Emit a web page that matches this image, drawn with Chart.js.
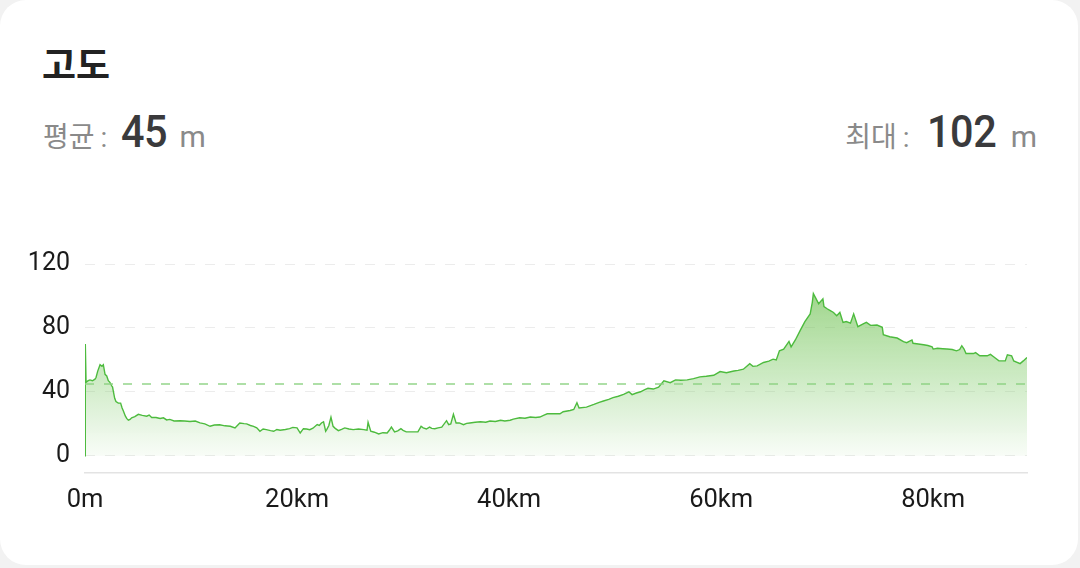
<!DOCTYPE html>
<html>
<head>
<meta charset="utf-8">
<script src="https://cdn.jsdelivr.net/npm/chart.js@4"></script>
<style>
  html, body { margin:0; padding:0; width:1080px; height:568px; background:#f2f2f2; overflow:hidden; }
  .card { position:absolute; left:0; top:0; width:1078px; height:565px; background:#fff; border-radius:26px; }
  .title { position:absolute; left:42px; top:45px; font-family:"Noto Sans CJK KR"; font-weight:700; font-size:37px; color:#222; line-height:1; }
  .stat { position:absolute; top:105px; display:flex; align-items:baseline; white-space:nowrap; }
  .stat .lbl { font-family:"Noto Sans CJK KR"; font-size:28px; color:#8a8a8a; }
  .stat .colon { font-family:"Roboto"; font-size:28px; color:#8a8a8a; margin:0 14px 0 6px; }
  .stat .num { font-family:"Roboto"; font-weight:500; font-size:45px; color:#3a3a3c; display:inline-block; transform:scaleX(0.92); transform-origin:left; letter-spacing:-0.5px; }
  .stat .unit { font-family:"Roboto"; font-size:30px; color:#8a8a8a; }
  #left { left:43px; }
  #right { right:43px; }
  #wrap { position:absolute; left:0; top:233.5px; width:1080px; height:296.5px; }
</style>
</head>
<body>
<div class="card"></div>
<div class="title">고도</div>
<div class="stat" id="left"><span class="lbl">평균</span><span class="colon">:</span><span class="num" id="avgNum" style="margin-right:8px">45</span><span class="unit">m</span></div>
<div class="stat" id="right"><span class="lbl">최대</span><span class="colon" style="margin-right:18px">:</span><span class="num" id="maxNum" style="margin-right:8px">102</span><span class="unit">m</span></div>
<div id="wrap"><canvas id="c"></canvas></div>
<script>
// ---- data ----
const distKm = [0,0.03,0.1,0.3,0.47,0.7,0.94,1.04,1.2,1.42,1.6,1.73,1.89,2.05,2.2,2.35,2.5,2.6,2.67,2.8,2.92,3.14,3.36,3.5,3.62,3.8,3.93,4.09,4.25,4.4,4.7,5.03,5.4,5.82,6.05,6.29,6.7,7.08,7.4,7.7,8.0,8.4,8.96,9.4,9.9,10.4,10.85,11.3,11.8,12.2,12.7,13.2,13.7,14.15,14.6,15.0,15.25,15.6,15.9,16.2,16.5,16.8,17.1,17.5,17.8,18.1,18.4,18.9,19.3,19.6,20,20.3,20.6,20.9,21.2,21.5,21.9,22.1,22.3,22.5,22.7,22.8,23.0,23.2,23.4,23.6,23.9,24.2,24.5,24.9,25.3,25.8,26.3,26.6,26.7,26.95,27.3,27.7,28.1,28.5,28.7,28.9,29.2,29.5,29.8,30.0,30.3,30.9,31.4,31.7,31.9,32.2,32.5,32.7,33,33.3,33.65,34.1,34.3,34.5,34.75,35,35.3,35.7,36.0,36.3,36.8,37.3,37.8,38.2,38.7,39.2,39.6,40.1,40.4,41,41.5,42,42.5,42.9,43.3,43.6,44.2,44.8,45.1,45.75,46.1,46.4,46.6,47.3,48,48.5,48.9,49.4,49.8,50.3,50.8,51.3,51.6,52.0,52.4,52.8,53.1,53.6,54.1,54.6,55.2,55.7,56.2,56.8,57.4,58,58.6,59.3,59.9,60.5,61.2,61.6,62.1,62.7,63.0,63.4,64,64.5,64.9,65.2,65.5,65.9,66.4,66.6,67,67.45,67.9,68.4,68.6,68.7,68.9,69.2,69.6,69.7,70.0,70.3,70.6,70.9,71.2,71.5,71.8,72.2,72.5,72.9,73.4,73.7,74.1,74.7,75.2,75.3,75.9,76.6,77.2,77.5,78,78.1,78.6,79.1,79.5,79.9,80,80.4,80.9,81.3,81.8,82.2,82.5,82.7,82.9,83.1,83.8,84,84.4,85.1,85.4,85.7,86.2,86.8,87,87.4,87.6,88.2,88.5,88.85];
const altM = [0,70,46,47,47.5,47,48,49,53,57,56,57,51,50,47,46,44,43,40.5,36,34,33,33,30,28,25,23.4,22.3,22.8,23.8,24.5,26,25.3,24.8,25.5,24,24,23.4,23.8,22.5,22.8,21.8,22,21.8,21.5,21.8,20.6,20,18.5,19.3,19.5,18.8,18.5,17.5,20.6,20.2,20,19,18.5,17.5,15.4,16.8,16.4,15.8,15.4,16.5,16,16.5,17,17.8,17.5,14.3,17,16.8,16.4,17.3,19.6,19,20.6,21.3,15.4,16.4,19,24.2,18.5,17.2,15.8,16.6,17.5,16.8,16.4,16.8,16.4,16,21,15.4,14.8,13.7,14.5,14.3,16,18,15,15.6,17,16,15,15,15,18.5,17.5,16.8,18,17.2,17,17.5,18,22,19.5,20,26,20.6,20.6,19.5,20.3,20.6,21,21.3,21,21.8,21.5,22.3,21.8,22.3,23,23.8,23.5,24.3,24,24.3,25.5,26.3,26.3,26.3,27.6,28.4,29,33.2,30,30.5,32.2,33.5,34.3,35.3,36.4,37.3,38.5,40.1,38.3,39.3,40.1,41.5,42.3,41.8,43,46.9,45.8,47.5,47.3,47.5,48.3,49.4,49.8,50.4,52.7,52,53.1,53.5,54.2,57.7,56,56.3,58.4,59.3,60.5,60,65.7,66.8,71.6,68.2,72.5,78.3,84,88.8,96,101.5,99,95.1,98.2,93.4,92,90.9,89.7,87.6,89.7,83.5,84,83,88.8,80.8,82.5,83.5,81.6,81.8,80.4,75.8,74.5,73.7,71.4,70.8,72.5,70.4,70,69.5,69,68.2,66.8,67.3,67,66.8,66.5,65.7,66.5,68.9,67,64,64,64.6,62.6,62.6,63.5,62,59.4,59.4,63.2,62.6,59.4,57.7,59.4,61.5];
const avgAlt = 45;
const maxAlt = 102;
const xTicks = [0,20,40,60,80];
const yTicks = [0,40,80,120];
const xTickLabels = ['0m','20km','40km','60km','80km'];

document.getElementById('avgNum').textContent = avgAlt;
document.getElementById('maxNum').textContent = maxAlt;

const profile = distKm.map((d,i)=>({x:d, y:altM[i]}));
const lastKm = distKm[distKm.length-1];
const avgLine = [{x:0,y:avgAlt},{x:lastKm,y:avgAlt}];

const ctx = document.getElementById('c');
new Chart(ctx, {
  type:'line',
  data:{ datasets:[
    { data: avgLine, borderColor:'rgba(140,210,130,0.7)', borderWidth:2, borderDash:[9,10], pointRadius:0, fill:false, order:0 },
    { data: profile, borderColor:'#4dbb3e', borderWidth:1.4, pointRadius:0, tension:0, fill:'origin', order:1,
      backgroundColor:(c)=>{
        const ch=c.chart; const a=ch.chartArea; if(!a) return 'rgba(110,195,80,0.3)';
        const ys=ch.scales.y;
        const g=ch.ctx.createLinearGradient(0, ys.getPixelForValue(maxAlt), 0, ys.getPixelForValue(0));
        g.addColorStop(0,'rgba(110,192,80,0.66)');
        g.addColorStop(0.5,'rgba(120,200,95,0.38)');
        g.addColorStop(1,'rgba(130,205,110,0.06)');
        return g;
      } }
  ]},
  options:{
    responsive:true, maintainAspectRatio:false, animation:false,
    layout:{ padding:{ top:19, right:53, left:0, bottom:0 } },
    plugins:{ legend:{display:false}, tooltip:{enabled:false} },
    scales:{
      x:{ type:'linear', min:0, max:lastKm,
        afterBuildTicks:(s)=>{ s.ticks = xTicks.map(v=>({value:v})); },
        afterFit:(s)=>{ s.height = 58; },
        grid:{ display:false },
        border:{ display:true, color:'#e3e3e3', width:1.5 },
        ticks:{ padding:5, color:'#1a1a1a', font:{family:'Roboto', size:25.5}, maxRotation:0,
          callback:(v,i)=>xTickLabels[xTicks.indexOf(v)] }
      },
      y:{ min:-10.4, max:120,
        afterBuildTicks:(s)=>{ s.ticks = yTicks.map(v=>({value:v})); },
        afterFit:(s)=>{ s.width = 85; },
        grid:{ color:'#ececec', lineWidth:1, drawTicks:false },
        border:{ display:false, dash:[10,10] },
        ticks:{ padding:15, color:'#1a1a1a', font:{family:'Roboto', size:25} }
      }
    }
  }
});
</script>
</body>
</html>
